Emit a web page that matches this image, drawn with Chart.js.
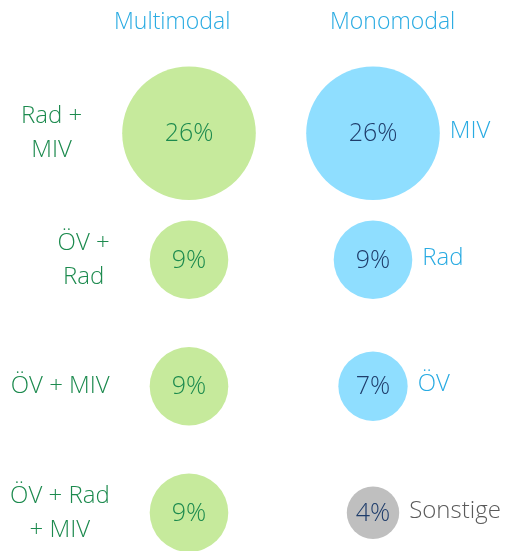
<!DOCTYPE html>
<html>
<head>
<meta charset="utf-8">
<script src="https://cdn.jsdelivr.net/npm/chart.js@4.4.1/dist/chart.umd.min.js"></script>
<style>
  html, body { margin: 0; padding: 0; background: #ffffff; overflow: hidden; }
  canvas { display: block; }
</style>
</head>
<body>
<canvas id="c" width="509" height="551"></canvas>
<script>
// ---- Data ----
const categories = ['Multimodal', 'Monomodal'];
const multimodalLabels = [['Rad +', 'MIV'], ['ÖV +', 'Rad'], ['ÖV + MIV'], ['ÖV + Rad', '+ MIV']];
const multimodalValues = [26, 9, 9, 9];
const monomodalLabels = ['MIV', 'Rad', 'ÖV', 'Sonstige'];
const monomodalValues = [26, 9, 7, 4];

// ---- Styles ----
const FONT = '"Open Sans", "Noto Sans", sans-serif';
const GREEN_FILL = '#c6ea9c';
const BLUE_FILL = '#8fdeff';
const GREY_FILL = '#bfbfbf';
const GREEN_TEXT = '#1c8a4e';
const BLUE_TEXT = '#29abe2';
const NAVY_TEXT = '#1f3d6b';
const GREY_TEXT = '#5a5a5a';
const RADIUS_K = 13.1;

const monoFill = monomodalLabels.map((l, i) => i === monomodalLabels.length - 1 ? GREY_FILL : BLUE_FILL);
const monoLabelColor = monomodalLabels.map((l, i) => i === monomodalLabels.length - 1 ? GREY_TEXT : BLUE_TEXT);

const ds = [
  {
    label: categories[0],
    data: multimodalValues.map((v, i) => ({ x: 0, y: i, r: RADIUS_K * Math.sqrt(v), v })),
    backgroundColor: GREEN_FILL,
    borderWidth: 0,
    hoverRadius: 0,
    clip: false
  },
  {
    label: categories[1],
    data: monomodalValues.map((v, i) => ({ x: 1, y: i, r: RADIUS_K * Math.sqrt(v), v })),
    backgroundColor: monoFill,
    borderWidth: 0,
    hoverRadius: 0,
    clip: false
  }
];

const textPlugin = {
  id: 'texts',
  afterDatasetsDraw(chart) {
    const ctx = chart.ctx;
    const xs = chart.scales.x;
    ctx.save();
    ctx.textBaseline = 'middle';
    // headers
    ctx.font = '300 23px ' + FONT;
    ctx.fillStyle = BLUE_TEXT;
    ctx.textAlign = 'left';
    ctx.fillText(categories[0], xs.getPixelForValue(0) - 75, 22);
    ctx.fillText(categories[1], xs.getPixelForValue(1) - 43, 22);

    // multimodal
    const m0 = chart.getDatasetMeta(0);
    m0.data.forEach((el, i) => {
      const r = RADIUS_K * Math.sqrt(multimodalValues[i]);
      ctx.font = '300 25px ' + FONT;
      ctx.fillStyle = GREEN_TEXT;
      ctx.textAlign = 'center';
      ctx.fillText(multimodalValues[i] + '%', el.x, el.y + 1);
      // left label block
      ctx.font = '300 24px ' + FONT;
      const lines = multimodalLabels[i];
      const w = Math.max(...lines.map(l => ctx.measureText(l).width));
      const right = el.x - r - 40;
      const cx = right - w / 2;
      const lh = 34;
      lines.forEach((l, k) => {
        ctx.fillText(l, cx, el.y + (k - (lines.length - 1) / 2) * lh);
      });
    });
    // monomodal
    const m1 = chart.getDatasetMeta(1);
    m1.data.forEach((el, i) => {
      const r = RADIUS_K * Math.sqrt(monomodalValues[i]);
      ctx.font = '300 25px ' + FONT;
      ctx.fillStyle = NAVY_TEXT;
      ctx.textAlign = 'center';
      ctx.fillText(monomodalValues[i] + '%', el.x, el.y + 1);
      ctx.font = '300 24px ' + FONT;
      ctx.fillStyle = monoLabelColor[i];
      ctx.textAlign = 'left';
      ctx.fillText(monomodalLabels[i], el.x + r + 10, el.y - 2);
    });
    ctx.restore();
  }
};

new Chart(document.getElementById('c'), {
  type: 'bubble',
  data: { datasets: ds },
  options: {
    responsive: false,
    animation: false,
    events: [],
    layout: { autoPadding: false, padding: { left: 97, right: 44, top: 70, bottom: 13 } },
    plugins: { legend: { display: false }, tooltip: { enabled: false } },
    scales: {
      x: { type: 'linear', min: -0.5, max: 1.5, display: false },
      y: { type: 'linear', min: -0.5, max: 3.2, reverse: true, display: false }
    }
  },
  plugins: [textPlugin]
});
</script>
</body>
</html>
